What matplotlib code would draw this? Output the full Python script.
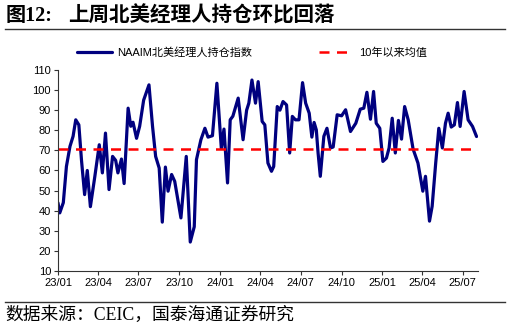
import matplotlib
matplotlib.use("Agg")
import matplotlib.pyplot as plt
import matplotlib.dates as mdates
import pandas as pd

plt.rcParams['font.family'] = ['Liberation Sans', 'Noto Sans CJK SC', 'DejaVu Sans']

# NAAIM exposure index
dates = [
    "2023-01-01", "2023-01-05", "2023-01-13", "2023-01-20", "2023-01-28", "2023-02-04",
    "2023-02-10", "2023-02-17", "2023-02-23", "2023-03-02", "2023-03-08", "2023-03-15",
    "2023-03-25", "2023-04-04", "2023-04-11", "2023-04-18", "2023-04-26", "2023-05-04",
    "2023-05-11", "2023-05-16", "2023-05-24", "2023-05-30", "2023-06-08", "2023-06-14",
    "2023-06-19", "2023-06-27", "2023-07-04", "2023-07-13", "2023-07-25", "2023-08-02",
    "2023-08-09", "2023-08-17", "2023-08-24", "2023-08-31", "2023-09-06", "2023-09-14",
    "2023-09-21", "2023-10-05", "2023-10-17", "2023-10-26", "2023-11-04", "2023-11-09",
    "2023-11-19", "2023-11-28", "2023-12-05", "2023-12-15", "2023-12-25", "2024-01-04",
    "2024-01-10", "2024-01-18", "2024-01-24", "2024-01-30", "2024-02-11", "2024-02-22",
    "2024-03-01", "2024-03-06", "2024-03-13", "2024-03-21", "2024-03-27", "2024-04-05",
    "2024-04-11", "2024-04-18", "2024-04-26", "2024-05-01", "2024-05-09", "2024-05-15",
    "2024-05-22", "2024-05-30", "2024-06-06", "2024-06-12", "2024-06-19", "2024-06-27",
    "2024-07-05", "2024-07-12", "2024-07-20", "2024-07-26", "2024-07-31", "2024-08-05",
    "2024-08-09", "2024-08-14", "2024-08-22", "2024-08-29", "2024-09-06", "2024-09-12",
    "2024-09-21", "2024-10-01", "2024-10-10", "2024-10-21", "2024-11-02", "2024-11-12",
    "2024-11-20", "2024-11-27", "2024-12-05", "2024-12-12", "2024-12-18", "2024-12-26",
    "2025-01-02", "2025-01-10", "2025-01-16", "2025-01-23", "2025-01-30", "2025-02-06",
    "2025-02-13", "2025-02-20", "2025-02-28", "2025-03-11", "2025-03-22", "2025-04-02",
    "2025-04-08", "2025-04-17", "2025-04-23", "2025-05-01", "2025-05-08", "2025-05-16",
    "2025-05-23", "2025-05-29", "2025-06-05", "2025-06-12", "2025-06-19", "2025-06-25",
    "2025-07-04", "2025-07-13", "2025-07-23", "2025-08-01",
]
naaim = [
    43.9, 38.9, 44.0, 62.0, 72.0, 77.0,
    85.2, 82.7, 65.0, 48.0, 60.0, 42.0,
    57.0, 72.8, 58.8, 78.6, 50.5, 67.0,
    65.0, 58.8, 65.7, 53.5, 91.0, 82.0,
    84.0, 76.0, 82.0, 95.0, 102.6, 82.0,
    67.0, 61.2, 34.3, 61.7, 49.7, 58.0,
    54.6, 36.4, 67.0, 24.4, 32.0, 65.4,
    75.3, 81.0, 76.6, 77.3, 103.4, 71.0,
    80.6, 53.8, 85.2, 87.0, 96.0, 75.3,
    90.0, 93.5, 105.0, 93.5, 104.2, 84.4,
    82.7, 63.7, 59.6, 62.0, 91.8, 90.0,
    94.3, 92.6, 68.7, 86.9, 85.2, 85.2,
    103.7, 93.5, 88.5, 76.6, 83.9, 80.2,
    68.7, 57.1, 77.0, 81.0, 71.2, 71.7,
    87.7, 87.2, 90.2, 79.4, 83.5, 90.5,
    91.0, 98.9, 85.5, 99.3, 83.5, 81.0,
    64.5, 66.2, 71.2, 86.0, 68.7, 84.9,
    75.6, 91.8, 85.2, 70.7, 63.7, 49.7,
    57.1, 34.8, 42.2, 63.7, 81.0, 71.2,
    83.5, 88.5, 81.6, 82.7, 93.8, 81.9,
    99.3, 85.2, 81.9, 76.9,
]
mean_10y = 70.5

x = pd.to_datetime(dates)

fig = plt.figure(figsize=(5.1, 3.27), dpi=100)
ax = fig.add_axes([0.1137, 0.1713, 0.8233, 0.6147])

ax.plot(x, naaim, color="#00007F", lw=2.3, solid_joinstyle="round",
        solid_capstyle="round", label="NAAIM北美经理人持仓指数")
ax.plot([x[0], x[-1]], [mean_10y, mean_10y], color="#FF0000", lw=1.8,
        ls=(0, (4, 3)), label="10年以来均值")

ax.set_ylim(10, 110)
ax.set_yticks(range(10, 111, 10))
ax.set_xlim(pd.Timestamp("2023-01-01"), pd.Timestamp("2025-08-04"))
ax.set_xticks(pd.date_range("2023-01-01", "2025-07-01", freq="QS"))
ax.xaxis.set_major_formatter(mdates.DateFormatter("%y/%m"))
for s in ["top", "right"]:
    ax.spines[s].set_visible(False)
for s in ["left", "bottom"]:
    ax.spines[s].set_color("#333333")
    ax.spines[s].set_linewidth(0.8)
ax.tick_params(axis="both", labelsize=8, length=3, width=0.8, colors="#333333",
               labelcolor="black", pad=2)

ax.legend(loc="center", bbox_to_anchor=(0.462, 1.085), ncol=2, frameon=False,
          fontsize=8, handlelength=3.2, columnspacing=6.0, handletextpad=0.45)

serif = ["Liberation Serif", "Noto Sans CJK SC"]
fig.text(0.01, 0.95, "图12:", fontsize=14.5, fontweight="bold",
         family=serif, va="center", ha="left")
fig.text(0.133, 0.95, "上周北美经理人持仓环比回落", fontsize=14.8, fontweight="bold",
         family=serif, va="center", ha="left")
fig.add_artist(plt.Line2D([0.01, 0.99], [0.912, 0.912], color="#333333", lw=1))
fig.add_artist(plt.Line2D([0.01, 0.99], [0.077, 0.077], color="#333333", lw=1))
fig.text(0.01, 0.035, "数据来源：CEIC，国泰海通证券研究", fontsize=12.8,
         family=serif, va="center", ha="left")

fig.savefig("out.png", dpi=100)
